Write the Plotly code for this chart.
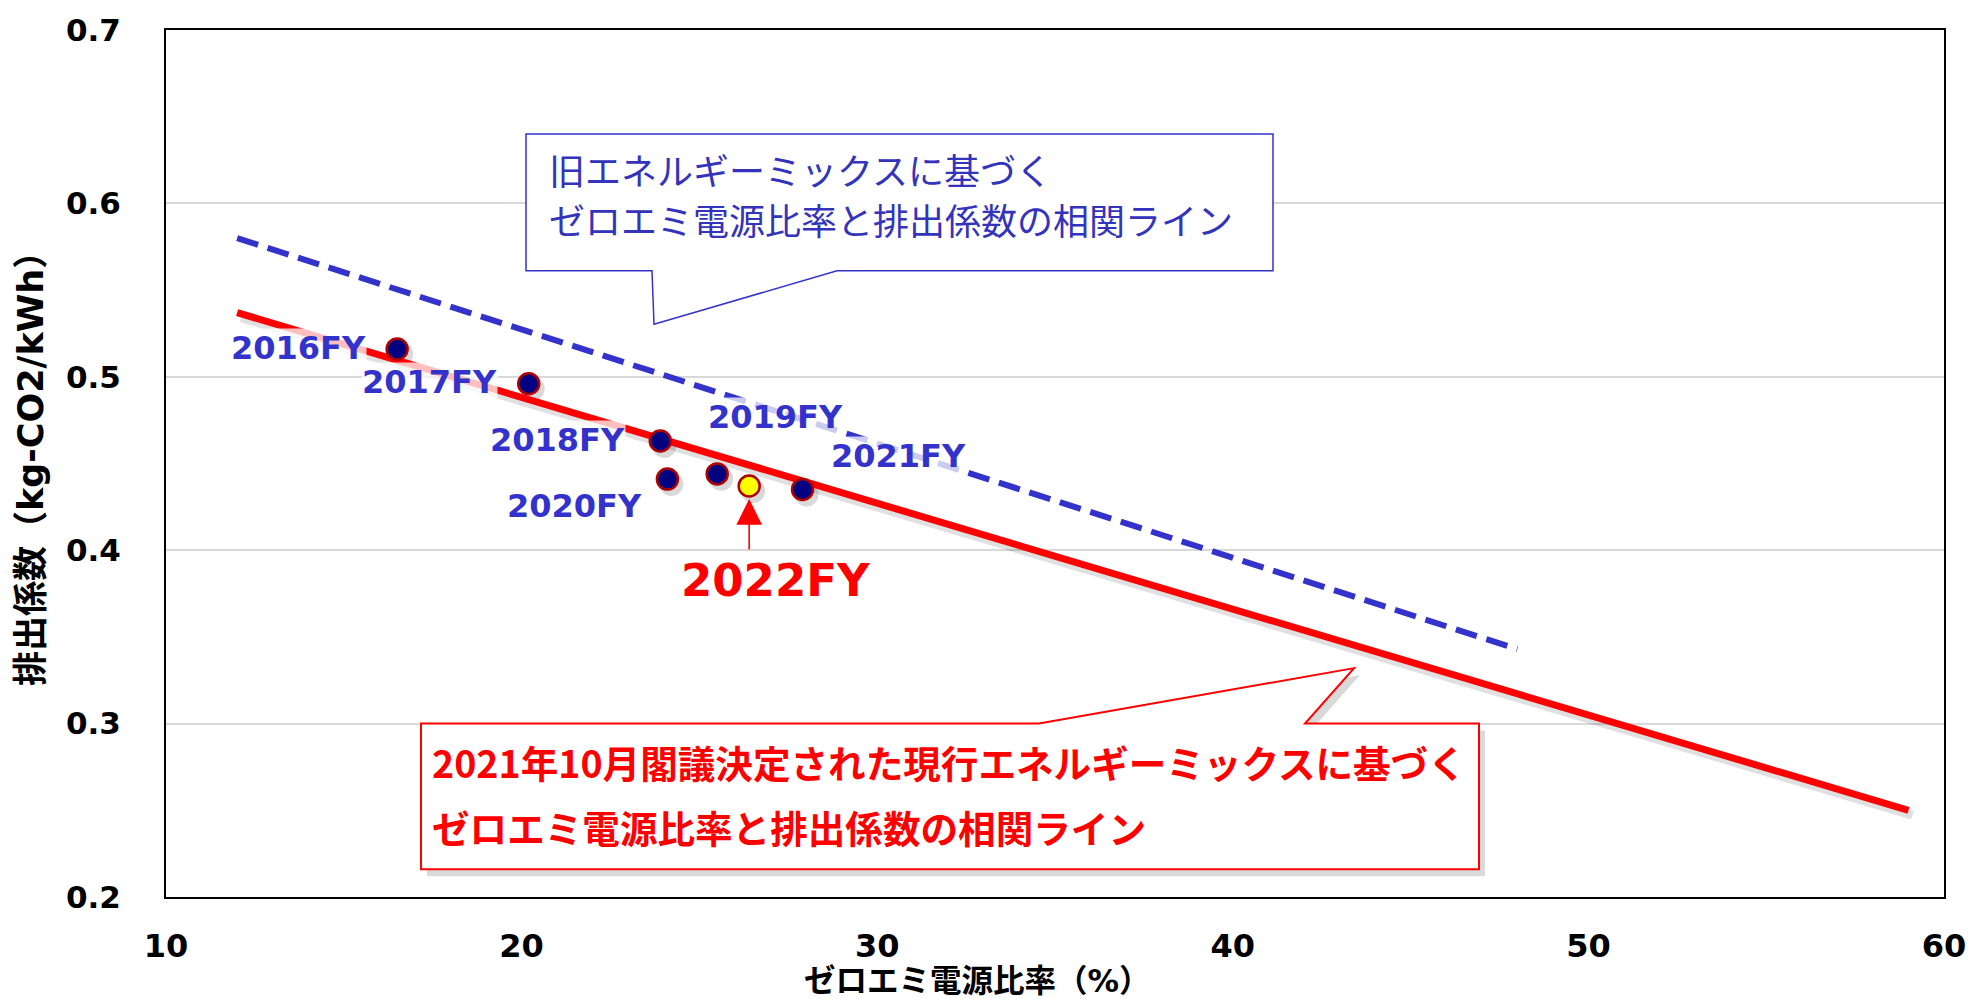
import plotly.graph_objects as go

# ---- data ----
years = ["2016FY", "2017FY", "2018FY", "2019FY", "2020FY", "2021FY"]
zero_emi_ratio = [16.5, 20.2, 23.9, 25.5, 24.1, 27.9]
emission_factor = [0.516, 0.496, 0.463, 0.444, 0.441, 0.435]

latest_year = "2022FY"
latest_ratio = [26.4]
latest_factor = [0.437]

new_line_x = [12, 59]
new_line_y = [0.537, 0.250]
old_line_x = [12, 48]
old_line_y = [0.580, 0.343]

x_ticks = [10, 20, 30, 40, 50, 60]
y_ticks = [0.2, 0.3, 0.4, 0.5, 0.6, 0.7]

old_text = ["旧エネルギーミックスに基づく", "ゼロエミ電源比率と排出係数の相関ライン"]
new_text = ["2021年10月閣議決定された現行エネルギーミックスに基づく", "ゼロエミ電源比率と排出係数の相関ライン"]
x_title = "ゼロエミ電源比率（%）"
y_title = "排出係数（kg-CO2/kWh）"

# ---- layout geometry (pixels) ----
W, H = 1984, 999
L, R, T, B = 166, 1944, 22, 897
XMIN, XMAX, YMIN, YMAX = 10, 60, 0.2, 0.7


def px(p):
    return XMIN + (p - L) * (XMAX - XMIN) / (R - L)


def py(p):
    return YMAX - (p - T) * (YMAX - YMIN) / (B - T)


def to_px(v):
    return L + (v - XMIN) * (R - L) / (XMAX - XMIN)


def to_py(v):
    return T + (YMAX - v) * (B - T) / (YMAX - YMIN)


BLUE = "#3333CC"
RED = "#FF0000"
LATIN = "DejaVu Sans, Noto Sans CJK JP"
CJK = "Noto Sans CJK JP"

fig = go.Figure()

# soft drop shadows (offset by a few pixels)
SHX, SHY = 4, 5
fig.add_trace(go.Scatter(x=[px(to_px(v) + SHX) for v in new_line_x],
                         y=[py(to_py(v) + SHY) for v in new_line_y],
                         mode="lines", line=dict(color="rgba(0,0,0,0.12)", width=9),
                         hoverinfo="skip", showlegend=False))
fig.add_trace(go.Scatter(x=[px(to_px(v) + SHX) for v in zero_emi_ratio + latest_ratio],
                         y=[py(to_py(v) + SHY) for v in emission_factor + latest_factor],
                         mode="markers", marker=dict(size=24, color="rgba(0,0,0,0.15)"),
                         hoverinfo="skip", showlegend=False))

fig.add_trace(go.Scatter(x=old_line_x, y=old_line_y, mode="lines",
                         line=dict(color=BLUE, width=6, dash="22px,10px"),
                         showlegend=False))
fig.add_trace(go.Scatter(x=new_line_x, y=new_line_y, mode="lines",
                         line=dict(color=RED, width=7), showlegend=False))
fig.add_trace(go.Scatter(x=zero_emi_ratio, y=emission_factor, mode="markers",
                         marker=dict(size=21, color="#000080",
                                     line=dict(color="#B00000", width=2.5)),
                         showlegend=False))
fig.add_trace(go.Scatter(x=latest_ratio, y=latest_factor, mode="markers",
                         marker=dict(size=21, color="#FFFF00",
                                     line=dict(color="#B00000", width=2.5)),
                         showlegend=False))

annotations = []
# year labels (pixel centres of text)
label_pos = {
    "2016FY": (298, 343),
    "2017FY": (429, 377),
    "2018FY": (557, 436),
    "2019FY": (775, 413),
    "2020FY": (574, 502),
    "2021FY": (898, 452),
}
for yr in years:
    cx, cy = label_pos[yr]
    annotations.append(dict(x=px(cx), y=py(cy), text=yr, showarrow=False,
                            xanchor="center", yanchor="middle",
                            font=dict(family=LATIN, size=32, color=BLUE, weight="bold"),
                            bgcolor="rgba(255,255,255,0.75)", borderpad=0))

# 2022FY label + arrow
annotations.append(dict(x=px(776), y=py(578), text=latest_year, showarrow=False,
                        xanchor="center", yanchor="middle",
                        font=dict(family=LATIN, size=45, color=RED, weight="bold")))
annotations.append(dict(x=latest_ratio[0], y=latest_factor[0], text="", showarrow=True,
                        ax=0, ay=65, arrowhead=2, arrowsize=3.2, arrowwidth=1.6,
                        arrowcolor=RED, standoff=13))

# callout text
for i, t in enumerate(old_text):
    annotations.append(dict(x=px(547), y=py([162, 213][i]), text=t, showarrow=False,
                            xanchor="left", yanchor="middle",
                            font=dict(family=CJK, size=36, color="#3333BB")))
for i, t in enumerate(new_text):
    annotations.append(dict(x=px(430), y=py([760, 826][i]), text=t, showarrow=False,
                            xanchor="left", yanchor="middle",
                            font=dict(family=CJK, size=37.6, color=RED, weight="bold")))

# axis titles
annotations.append(dict(xref="paper", yref="paper", x=(977 - L) / (R - L), y=(B - 982) / (B - T),
                        text=x_title, showarrow=False, xanchor="center", yanchor="middle",
                        font=dict(family=LATIN, size=31.5, color="black", weight="bold")))
annotations.append(dict(xref="paper", yref="paper", x=(31 - L) / (R - L), y=(B - 456) / (B - T),
                        text=y_title, showarrow=False, xanchor="center", yanchor="middle",
                        textangle=-90,
                        font=dict(family=LATIN, size=35, color="black", weight="bold")))


def path(points):
    s = "M {} {}".format(px(points[0][0]), py(points[0][1]))
    for a, b in points[1:]:
        s += " L {} {}".format(px(a), py(b))
    return s + " Z"


blue_box = [(526, 127), (1273, 127), (1273, 265), (837, 265), (654, 319), (652, 265), (526, 265)]
red_box = [(421, 722), (1039, 722), (1354, 666), (1305, 722), (1479, 722), (1479, 869), (421, 869)]
red_shadow = [(a + 6, b + 7) for a, b in red_box]

shapes = [
    dict(type="path", path=path(red_shadow), xref="x", yref="y",
         fillcolor="rgba(0,0,0,0.15)", line=dict(width=0), layer="above"),
    dict(type="path", path=path(blue_box), xref="x", yref="y",
         fillcolor="white", line=dict(color="#3333CC", width=1.5), layer="above"),
    dict(type="path", path=path(red_box), xref="x", yref="y",
         fillcolor="white", line=dict(color=RED, width=2), layer="above"),
]

fig.update_layout(
    width=W, height=H,
    margin=dict(l=L, r=W - R, t=T, b=H - B),
    paper_bgcolor="white", plot_bgcolor="white",
    showlegend=False,
    annotations=annotations,
    shapes=shapes,
    xaxis=dict(range=[XMIN, XMAX], tickvals=x_ticks, ticks="", showgrid=False,
               zeroline=False, showline=True, linecolor="black", linewidth=2, mirror=True,
               ticklabelstandoff=20,
               tickfont=dict(family=LATIN, size=32, color="black", weight="bold")),
    yaxis=dict(range=[YMIN, YMAX], tickvals=y_ticks, tickformat=".1f", ticks="",
               showgrid=True, gridcolor="#D9D9D9", gridwidth=2,
               zeroline=False, showline=True, linecolor="black", linewidth=2, mirror=True,
               ticklabelstandoff=37,
               tickfont=dict(family=LATIN, size=31, color="black", weight="bold")),
)

fig.write_html("out.html")
